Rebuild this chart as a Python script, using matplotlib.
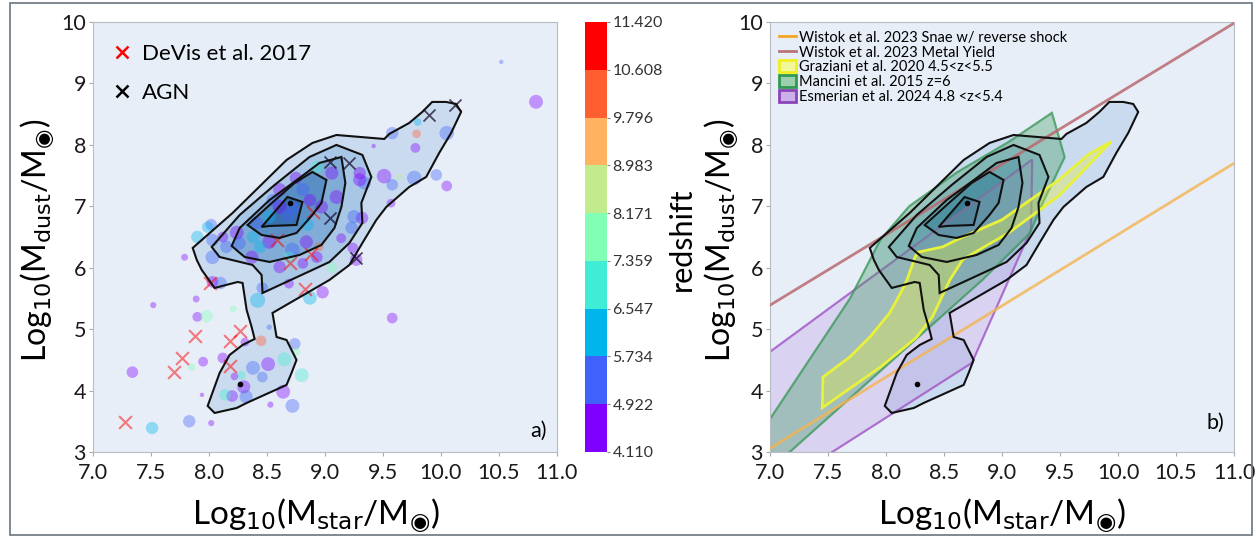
import matplotlib.pyplot as plt
import numpy as np
from matplotlib.colors import ListedColormap, BoundaryNorm
from matplotlib.patches import Polygon, Patch, Rectangle
from matplotlib.lines import Line2D

plt.rcParams['font.family'] = ['Lato', 'DejaVu Sans']
plt.rcParams['mathtext.fontset'] = 'dejavusans'

# galaxies: stellar mass, dust mass, redshift, marker size
log_mstar = [7.52, 7.89, 7.90, 7.98, 8.21, 7.34, 7.51, 7.83, 8.02, 7.95, 7.85, 8.12, 8.31, 8.45,
             8.52, 8.74, 8.75, 8.65, 8.51, 8.38, 8.46, 8.28, 8.22, 8.30, 8.20, 8.32, 8.14, 8.64,
             8.72, 8.80, 8.53, 7.94, 8.42, 8.10, 8.87, 8.98, 8.69, 8.03, 8.46, 8.61, 9.58,
             10.52, 10.82, 9.58, 9.80, 9.79, 9.78, 10.05, 9.42, 9.51, 9.58, 9.77, 9.64, 9.96,
             10.05, 9.57, 9.32, 9.34, 9.30, 9.14, 9.24, 9.27, 9.06,
             7.79, 7.90, 8.03, 8.02, 8.24, 8.15, 8.37, 8.52, 8.72, 8.84, 8.95, 9.23, 9.25,
             9.30, 9.10, 8.97, 8.87, 8.93, 9.06, 8.81, 8.72, 8.61, 8.52, 8.41, 8.75, 8.61,
             8.38, 8.26, 8.12, 8.44, 8.93, 8.69, 8.81, 7.99, 8.03, 8.68, 8.55, 8.85]
log_mdust = [5.39, 5.49, 5.20, 5.21, 5.33, 4.30, 3.39, 3.50, 3.47, 4.47, 4.38, 4.53, 4.79, 4.81,
             5.03, 4.76, 4.63, 4.51, 4.43, 4.37, 4.22, 4.25, 4.23, 4.06, 3.91, 3.90, 3.93, 3.98,
             3.75, 4.25, 3.77, 3.93, 5.47, 5.75, 5.51, 5.60, 5.74, 5.77, 5.67, 6.01, 5.18,
             9.35, 8.70, 8.19, 8.37, 8.18, 7.95, 8.19, 7.98, 7.49, 7.35, 7.46, 7.48, 7.51,
             7.33, 7.05, 6.81, 7.38, 7.54, 6.48, 6.32, 6.13, 6.00,
             6.17, 6.50, 6.17, 6.70, 6.57, 6.34, 6.17, 6.42, 6.29, 6.42, 6.34, 6.65, 6.83,
             7.43, 7.15, 6.99, 7.10, 7.64, 7.54, 7.27, 6.97, 7.27, 6.83, 6.73, 7.46, 6.99,
             6.50, 6.40, 6.50, 6.34, 6.17, 6.17, 6.07, 6.66, 6.45, 6.85, 7.10, 6.70]
redshift = [4.5, 4.6, 4.4, 7.4, 7.5, 4.3, 6.2, 5.0, 4.5, 4.5, 7.6, 4.4, 4.5, 10.4,
            5.0, 5.1, 7.5, 7.2, 4.5, 5.0, 5.2, 7.0, 4.4, 4.4, 4.5, 5.0, 6.8, 4.3,
            5.2, 7.3, 4.6, 4.8, 6.0, 5.5, 6.5, 4.4, 4.6, 4.5, 5.0, 4.5, 4.4,
            5.0, 4.3, 5.0, 6.5, 9.8, 4.4, 5.0, 4.5, 4.5, 5.0, 5.3, 8.5, 5.0,
            4.4, 4.5, 4.5, 5.0, 4.5, 4.4, 4.5, 4.4, 7.5,
            4.5, 6.0, 5.0, 5.0, 4.5, 5.0, 4.4, 4.5, 5.0, 4.5, 10.0, 5.0, 5.0,
            4.5, 4.4, 4.5, 4.6, 6.8, 4.5, 5.0, 5.2, 4.5, 6.3, 5.2, 4.5, 4.5,
            6.5, 5.0, 4.5, 6.0, 4.5, 6.8, 4.4, 6.3, 5.0, 5.5, 5.0, 5.8]
msize = [20, 25, 50, 80, 25, 70, 80, 80, 20, 50, 30, 60, 40, 60,
         15, 70, 40, 100, 100, 100, 60, 40, 30, 90, 70, 90, 70, 100,
         100, 100, 20, 10, 120, 80, 100, 80, 50, 70, 70, 80, 60,
         10, 100, 80, 30, 40, 50, 110, 10, 110, 70, 110, 20, 70,
         60, 40, 80, 90, 80, 50, 60, 80, 60,
         25, 80, 100, 70, 100, 80, 90, 100, 110, 90, 40, 80, 90,
         90, 100, 90, 80, 80, 90, 90, 100, 90, 90, 90, 80, 100,
         80, 90, 60, 80, 70, 70, 60, 70, 80, 90, 80, 80]

devis_mstar = [7.28, 7.70, 7.77, 7.88, 8.18, 8.27, 8.18, 8.01, 8.83, 8.59, 8.90, 8.70, 8.88]
devis_mdust = [3.49, 4.30, 4.53, 4.89, 4.81, 4.97, 4.40, 5.75, 5.65, 6.45, 6.90, 6.08, 6.22]
agn_mstar = [9.04, 9.21, 9.04, 9.27, 9.90, 10.12]
agn_mdust = [7.72, 7.70, 6.81, 6.16, 8.49, 8.65]

z_bounds = [4.110, 4.922, 5.734, 6.547, 7.359, 8.171, 8.983, 9.796, 10.608, 11.420]

# density contours of the sample, outermost first
contour_levels = [
    [(7.860, 6.321), (8.204, 6.891), (8.669, 7.753), (8.892, 8.030), (9.099, 8.160),
     (9.512, 8.095), (9.555, 8.177), (9.727, 8.356), (9.839, 8.535), (9.925, 8.698),
     (10.045, 8.698), (10.131, 8.665), (10.174, 8.535), (10.088, 8.193), (9.985, 7.867),
     (9.873, 7.477), (9.727, 7.314), (9.529, 6.988), (9.443, 6.777), (9.323, 6.402),
     (9.211, 6.044), (9.039, 5.800), (8.548, 5.263), (8.583, 4.872), (8.669, 4.823),
     (8.755, 4.498), (8.712, 4.286), (8.669, 4.091), (8.325, 3.798), (8.239, 3.716),
     (8.049, 3.635), (7.989, 3.749), (8.092, 4.286), (8.178, 4.579), (8.290, 4.742),
     (8.394, 4.840), (8.368, 5.035), (8.325, 5.312), (8.290, 5.751), (8.247, 5.767),
     (8.049, 5.670), (7.938, 5.963), (7.895, 6.126)],
    [(8.024, 6.337), (8.265, 6.858), (8.566, 7.346), (8.867, 7.802), (9.099, 7.998),
     (9.323, 7.835), (9.400, 7.477), (9.314, 7.053), (9.323, 6.728), (9.211, 6.402),
     (9.039, 6.093), (8.892, 5.963), (8.462, 5.588), (8.454, 5.881), (8.376, 6.044),
     (8.092, 6.174)],
    [(8.196, 6.353), (8.265, 6.646), (8.523, 7.102), (8.781, 7.460), (8.953, 7.705),
     (9.142, 7.802), (9.176, 7.379), (9.142, 6.988), (9.082, 6.646), (8.970, 6.370),
     (8.781, 6.207), (8.523, 6.093), (8.308, 6.174)],
    [(8.333, 6.695), (8.523, 7.021), (8.738, 7.379), (8.892, 7.558), (9.013, 7.428),
     (8.970, 7.053), (8.892, 6.858), (8.755, 6.565), (8.609, 6.484), (8.454, 6.532)],
    [(8.454, 6.663), (8.677, 7.151), (8.806, 7.070), (8.755, 6.695), (8.523, 6.679)],
]
contour_fills = ['#b3cde8', '#8db6de', '#5f97cc', '#3b78b8', '#1f5a9e']
peak_mstar = [8.70, 8.27]
peak_mdust = [7.05, 4.11]

# literature relations
wistok_mstar = [7.0, 11.0]
wistok_snae = [3.06, 7.70]
wistok_metal = [5.39, 9.98]
graziani = [(7.456, 4.22), (7.69, 4.55), (7.86, 4.87), (8.03, 5.26), (8.14, 5.64), (8.18, 5.80),
            (8.25, 6.17), (8.27, 6.25), (8.49, 6.34), (8.66, 6.50), (9.0, 6.78), (9.49, 7.43),
            (9.75, 7.85), (9.94, 8.05), (9.49, 7.17), (9.06, 6.57), (8.83, 6.32), (8.66, 6.13),
            (8.55, 5.80), (8.49, 5.56), (8.40, 5.20), (8.26, 4.86), (7.95, 4.38), (7.45, 3.72)]
mancini = [(6.28, 1.49), (7.69, 5.50), (7.95, 6.45), (8.20, 7.00), (8.61, 7.55), (9.06, 8.05),
           (9.43, 8.52), (9.54, 7.80), (9.35, 7.05), (9.24, 6.56), (8.83, 5.80), (7.17, 3.00)]
esmerian = [(6.50, 3.94), (9.26, 7.76), (9.25, 6.62), (8.74, 4.45), (7.52, 2.98), (6.50, 1.75)]

cmap = ListedColormap(plt.cm.rainbow(np.linspace(0, 1, 9)))
norm = BoundaryNorm(z_bounds, cmap.N)

fig = plt.figure(figsize=(12.56, 5.38), dpi=100)
ax1 = fig.add_axes([0.0740, 0.1599, 0.3694, 0.7993])
cax = fig.add_axes([0.4658, 0.1599, 0.0175, 0.7993])
ax2 = fig.add_axes([0.6131, 0.1599, 0.3694, 0.7993])

xlab = r'Log$_{10}$(M$_{\rm star}$/M$_{◉}$)'
ylab = r'Log$_{10}$(M$_{\rm dust}$/M$_{◉}$)'


def draw_contours(ax):
    for verts, fc in zip(contour_levels, contour_fills):
        ax.add_patch(Polygon(verts, closed=True, facecolor=fc, edgecolor='none',
                             alpha=0.55, zorder=1))
    for verts in contour_levels:
        ax.add_patch(Polygon(verts, closed=True, facecolor='none', edgecolor='#111111',
                             lw=1.5, zorder=6))
    ax.scatter(peak_mstar, peak_mdust, s=9, color='black', zorder=7)


def style_axes(ax):
    ax.set_facecolor('#e8eef8')
    ax.set_xlim(7.0, 11.0)
    ax.set_ylim(3, 10)
    ax.set_xticks(np.arange(7.0, 11.01, 0.5))
    ax.set_xticklabels([f'{t:.1f}' for t in np.arange(7.0, 11.01, 0.5)])
    ax.set_yticks(range(3, 11))
    ax.tick_params(labelsize=15.5, color='#aaaaaa', length=3, labelcolor='#1a1a1a')
    ax.tick_params(axis='x', pad=5)
    ax.tick_params(axis='y', pad=2)
    for sp in ax.spines.values():
        sp.set_color('#b8bcc4')
        sp.set_linewidth(0.8)


# left panel
style_axes(ax1)
draw_contours(ax1)
sc = ax1.scatter(log_mstar, log_mdust, c=redshift, s=msize, cmap=cmap, norm=norm,
                 alpha=0.38, edgecolors='none', zorder=3)
ax1.scatter(devis_mstar, devis_mdust, marker='x', s=85, color='red', alpha=0.5, lw=1.5, zorder=4)
ax1.scatter(agn_mstar, agn_mdust, marker='x', s=75, color='#1a1030', alpha=0.75, lw=1.3, zorder=5)
h1 = [Line2D([], [], ls='none', marker='x', color='red', ms=9, mew=1.8),
      Line2D([], [], ls='none', marker='x', color='black', ms=9, mew=1.8)]
ax1.legend(h1, ['DeVis et al. 2017', 'AGN'], loc='upper left', frameon=False, fontsize=16,
           handlelength=0.6, handletextpad=0.6, labelspacing=0.85, borderaxespad=0.6)
ax1.text(0.978, 0.025, 'a)', transform=ax1.transAxes, ha='right', va='bottom', fontsize=15.5)

cb = fig.colorbar(sc, cax=cax, ticks=z_bounds)
cb.set_ticklabels([f'{b:.3f}' for b in z_bounds])
cb.solids.set_alpha(1)
cb.outline.set_visible(False)
cax.tick_params(labelsize=11.5, length=2, color='#888888', labelcolor='#333333', pad=2)
fig.text(0.5425, 0.556, 'redshift', rotation=90, fontsize=22, ha='center', va='center')

# right panel
style_axes(ax2)
draw_contours(ax2)
ax2.add_patch(Polygon(esmerian, closed=True, facecolor='#b892e0', edgecolor='#a45cc8',
                      alpha=0.3, zorder=2))
ax2.add_patch(Polygon(esmerian, closed=True, facecolor='none', edgecolor='#a45cc8',
                      lw=1.6, alpha=0.8, zorder=2))
ax2.add_patch(Polygon(mancini, closed=True, facecolor='#3d9a5c', alpha=0.35, zorder=2))
ax2.add_patch(Polygon(mancini, closed=True, facecolor='none', edgecolor='#3d9a5c',
                      lw=1.6, alpha=0.8, zorder=2))
ax2.add_patch(Polygon(graziani, closed=True, facecolor='#e4ee3a', alpha=0.35, zorder=2))
ax2.add_patch(Polygon(graziani, closed=True, facecolor='none', edgecolor='#e8f23a',
                      lw=2, zorder=2))
ax2.plot(wistok_mstar, wistok_snae, color='#f4b450', lw=2, alpha=0.8, zorder=3)
ax2.plot(wistok_mstar, wistok_metal, color='#b86a70', lw=2, alpha=0.85, zorder=3)
h2 = [Line2D([], [], color='#f5a623', lw=2),
      Line2D([], [], color='#b87377', lw=2),
      Patch(facecolor='#f2f89a', edgecolor='#f0f020', lw=2),
      Patch(facecolor='#9ccfae', edgecolor='#2f9a50', lw=2),
      Patch(facecolor='#cbb0ea', edgecolor='#8a45b8', lw=2)]
ax2.legend(h2, ['Wistok et al. 2023 Snae w/ reverse shock', 'Wistok et al. 2023 Metal Yield',
                'Graziani et al. 2020 4.5<z<5.5', 'Mancini et al. 2015 z=6',
                'Esmerian et al. 2024 4.8 <z<5.4'],
           loc='upper left', frameon=False, fontsize=10.5, handlelength=1.2, handleheight=0.9,
           handletextpad=0.2, labelspacing=0.05, borderaxespad=0.2)
ax2.text(0.978, 0.045, 'b)', transform=ax2.transAxes, ha='right', va='bottom', fontsize=15.5)

# axis titles
for xc in (0.252, 0.798):
    fig.text(xc, 0.042, xlab, fontsize=24, ha='center', va='center')
for xc in (0.030, 0.575):
    fig.text(xc, 0.553, ylab, fontsize=23, ha='center', va='center', rotation=90)

fig.add_artist(Rectangle((0.008, 0.006), 0.989, 0.988, transform=fig.transFigure,
                         fill=False, edgecolor='#6b7480', lw=1.2))

plt.savefig('out.png', dpi=100)
